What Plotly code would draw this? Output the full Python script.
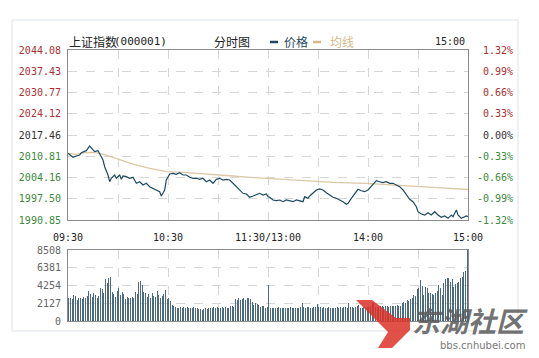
import plotly.graph_objects as go

# ---------------- data ----------------
prev_close = 2017.46
price_time = [0, 3, 5, 7, 8, 11, 13, 15, 16, 18, 19, 21, 22, 24, 25, 26, 28, 29, 31, 32,
              33, 35, 37, 39, 41, 43, 45, 47, 49, 51, 53, 55, 56, 58, 59, 61, 63, 65, 67, 69,
              71, 73, 75, 77, 79, 81, 83, 85, 87, 89, 91, 93, 95, 97, 99, 101, 103, 105, 107, 109,
              111, 113, 115, 117, 119, 120, 121, 123, 125, 127, 129, 131, 133, 135, 137, 139, 141, 142, 144, 145,
              147, 149, 151, 153, 155, 157, 159, 161, 163, 165, 167, 168, 170, 172, 174, 176, 178, 180, 182, 184,
              185, 187, 189, 191, 193, 195, 197, 199, 201, 203, 205, 207, 209, 210, 212, 214, 216, 218, 220, 222,
              224, 226, 228, 230, 231, 233, 234, 236, 237, 239, 240]
price_value = [2011.73, 2010.48, 2010.89, 2011.20, 2011.93, 2012.56, 2014.02, 2012.98, 2012.25, 2012.56,
               2011.73, 2009.64, 2007.54, 2004.94, 2002.84, 2003.91, 2004.94, 2003.91, 2004.94, 2003.59,
               2004.63, 2004.41, 2003.91, 2004.22, 2002.34, 2002.84, 2001.81, 2002.34, 2001.28, 2000.77,
               2000.24, 1999.71, 1998.36, 2000.24, 2003.37, 2005.25, 2005.47, 2005.15, 2005.66, 2004.94,
               2004.94, 2004.22, 2003.91, 2003.91, 2003.59, 2003.91, 2002.84, 2003.37, 2002.34, 2003.59,
               2003.91, 2003.37, 2003.59, 2003.37, 2002.34, 2001.28, 2000.24, 1999.21, 1998.99, 1997.96,
               1998.36, 1998.68, 1999.21, 1998.68, 1998.99, 1998.15, 1997.96, 1997.11, 1996.90, 1997.11,
               1996.58, 1997.11, 1996.90, 1996.58, 1997.11, 1996.90, 1996.58, 1998.15, 1997.64, 1998.36,
               1999.21, 2000.24, 2000.56, 2000.24, 1999.40, 1998.68, 1997.96, 1997.64, 1997.11, 1996.58,
               1995.77, 1996.08, 1997.64, 1999.21, 2000.46, 2000.02, 1999.71, 2000.24, 2001.28, 2002.53,
               2003.16, 2002.84, 2002.53, 2002.84, 2002.34, 2002.34, 2001.81, 2001.28, 2000.24, 1998.68,
               1997.33, 1996.58, 1995.01, 1993.45, 1992.73, 1992.42, 1993.14, 1992.42, 1993.45, 1992.42,
               1991.69, 1992.10, 1991.38, 1992.42, 1991.89, 1993.98, 1992.42, 1991.38, 1991.69, 1992.10,
               1991.89]
avg_time = [0, 5, 10, 16, 22, 29, 39, 49, 59, 69, 79, 89, 99, 109, 119, 139, 159, 179, 199, 219, 240]
avg_value = [2011.73, 2011.40, 2011.90, 2012.00, 2011.30, 2010.17, 2008.38, 2007.04, 2005.97, 2005.79,
             2005.47, 2004.94, 2004.63, 2004.22, 2003.91, 2003.37, 2002.65, 2002.34, 2001.81, 2001.09,
             2000.40]
volume = [2700, 2800, 2600, 3100, 3000, 2500, 2700, 2800, 2600, 2900,
          2800, 3000, 3600, 3200, 2900, 3300, 3100, 2800, 3000, 4000,
          3800, 3400, 5000, 4600, 5100, 5300, 3500, 3200, 2900, 3600,
          3900, 3100, 3500, 3200, 2600, 2900, 2700, 2800, 2900, 2700,
          3500, 3200, 4700, 4800, 4300, 3500, 3400, 2900, 3200, 2700,
          3300, 3000, 2900, 3600, 3100, 2800, 3000, 3200, 3700, 2600,
          2800, 2400, 1900, 1800, 1700, 1600, 1600, 1650, 1550, 1700,
          1600, 1650, 1500, 1550, 1600, 1700, 1500, 1600, 1400, 1450,
          1350, 1450, 1500, 1400, 1600, 1550, 1500, 1650, 1500, 1700,
          1600, 1550, 1650, 1500, 1700, 1600, 1550, 1750, 1800, 1700,
          2600, 2500, 2700, 2550, 2600, 2750, 2500, 2700, 2800, 2600,
          2300, 1900, 2100, 2000, 1900, 1700, 1800, 1750, 1600, 1700,
          4300, 1600, 1550, 1500, 1600, 1550, 1650, 1500, 1600, 1550,
          1500, 1600, 1550, 1650, 1500, 1600, 1550, 1500, 1600, 1650,
          2100, 1700, 1600, 1650, 1700, 1600, 1550, 1700, 1650, 2000,
          1700, 1650, 1600, 1700, 1550, 1600, 1650, 1500, 1600, 1550,
          1600, 1700, 1550, 1650, 1600, 1700, 1650, 1600, 2100, 1700,
          1650, 1600, 1700, 1750, 1900, 1500, 1600, 1650, 1700, 1700,
          1700, 1800, 2300, 2200, 1700, 1650, 1700, 1750, 1800, 1700,
          1750, 1800, 1700, 1750, 1850, 1800, 1750, 1900, 1800, 1850,
          2200, 2300, 2100, 2500, 2400, 2600, 2800, 3100, 3000, 3800,
          3900, 4900, 4200, 3100, 4100, 4000, 3300, 3400, 3200, 3100,
          3300, 3600, 4300, 3900, 3100, 4600, 5000, 5100, 5100, 4700,
          5000, 4100, 4400, 4600, 4700, 5100, 5300, 5900, 6000, 8508]
volume_time = [m + 0.5 for m in range(len(volume))]

grid_time = [0, 30, 60, 90, 120, 150, 180, 210, 240]
time_labels = ["09:30", "", "10:30", "", "11:30/13:00", "", "14:00", "", "15:00"]
price_ticks = [2044.08, 2037.43, 2030.77, 2024.12, 2017.46, 2010.81, 2004.16, 1997.50, 1990.85]
pct_ticks = [1.32, 0.99, 0.66, 0.33, 0.00, -0.33, -0.66, -0.99, -1.32]
vol_ticks = [0, 2127, 4254, 6381, 8508]

# ---------------- styling ----------------
RED, GREEN, DARK = "#a83232", "#3b8a3b", "#333333"
PRICE_C, AVG_C, BAR_C = "#1d4a60", "#dcc8a6", "rgba(70,102,124,0.97)"
GRID_C, AXIS_C = "#d6d6d6", "#8a8a8a"
MONO = "DejaVu Sans Mono, Liberation Mono, monospace"
CJK = "Noto Sans CJK SC, sans-serif"


def col(v):
    return RED if v > 0.0001 else (GREEN if v < -0.0001 else DARK)


left_text = [f"<span style='color:{col(p - prev_close)}'>{p:.2f}</span>" for p in price_ticks]
right_text = [f"<span style='color:{col(p)}'>{'\u00a0' if p >= 0 else ''}{p:.2f}%</span>" for p in pct_ticks]

fig = go.Figure()
fig.add_trace(go.Scatter(x=avg_time, y=avg_value, mode="lines", line=dict(color=AVG_C, width=1.3),
                         xaxis="x", yaxis="y", hoverinfo="skip"))
fig.add_trace(go.Scatter(x=price_time, y=price_value, mode="lines", line=dict(color=PRICE_C, width=1.2),
                         xaxis="x", yaxis="y"))
fig.add_trace(go.Scatter(x=[0, 240], y=[0, 0], mode="lines", line=dict(width=0), opacity=0,
                         xaxis="x", yaxis="y3", hoverinfo="skip"))
fig.add_trace(go.Bar(x=volume_time, y=volume, width=0.6, marker=dict(color=BAR_C, line=dict(width=0)),
                     xaxis="x2", yaxis="y2"))

# page geometry (the html body adds an 8px margin, so the figure is placed 8px in)
OFF = 8
W, H = 539 - OFF, 358 - OFF
L, R, T, B = 68 - OFF, 468 - OFF, 50 - OFF, 321 - OFF
def px(xp): return (xp - OFF - L) / (R - L)
def py(yp): return (B - (yp - OFF)) / (B - T)

common_x = dict(range=[0, 240], tickvals=grid_time, showgrid=True, gridcolor=GRID_C, griddash="dash",
                gridwidth=1, showline=True, mirror=True, linecolor=AXIS_C, linewidth=1, zeroline=False,
                ticks="", fixedrange=True)

fig.update_layout(
    width=W, height=H, margin=dict(l=L, r=W - R, t=T, b=H - B, pad=0),
    paper_bgcolor="white", plot_bgcolor="white", showlegend=False, bargap=0, bargroupgap=0,
    xaxis=dict(common_x, domain=[0, 1], anchor="y", ticktext=time_labels,
               tickfont=dict(family=MONO, size=10, color="#222"), ticklabelstandoff=8),
    xaxis2=dict(common_x, domain=[0, 1], anchor="y2", showticklabels=False),
    yaxis=dict(domain=[py(220), 1], range=[1990.85, 2044.08], tickvals=price_ticks, ticktext=left_text,
               showgrid=True, gridcolor=GRID_C, griddash="dash", showline=True, mirror=True,
               linecolor=AXIS_C, zeroline=False, ticks="", ticklabelstandoff=4,
               tickfont=dict(family=MONO, size=10)),
    yaxis3=dict(overlaying="y", side="right", anchor="x", range=[-1.32, 1.32], tickvals=pct_ticks,
                ticktext=right_text, showgrid=False, zeroline=False, ticks="", ticklabelstandoff=8,
                tickfont=dict(family=MONO, size=10)),
    yaxis2=dict(domain=[0, py(250)], range=[0, 8508], tickvals=vol_ticks, showgrid=True, gridcolor=GRID_C,
                griddash="dash", showline=True, mirror=True, linecolor=AXIS_C, zeroline=False, ticks="",
                ticklabelstandoff=4, tickfont=dict(family=MONO, size=10, color="#666")),
)

# outer frame
fig.add_shape(type="rect", xref="paper", yref="paper", x0=px(12), x1=px(518), y0=py(331), y1=py(20),
              line=dict(color="#dde3ea", width=1), layer="below")

# header
hdr_y = py(42)
ann = [
    dict(text="上证指数", x=px(67), font=dict(family=CJK, size=12, color="#222")),
    dict(text="(000001)", x=px(112), font=dict(family=MONO, size=11, color="#222")),
    dict(text="分时图", x=px(212), font=dict(family=CJK, size=12, color="#222")),
    dict(text="价格", x=px(282), font=dict(family=CJK, size=12, color=PRICE_C)),
    dict(text="均线", x=px(328), font=dict(family=CJK, size=12, color="#d4b98c")),
]
for a in ann:
    fig.add_annotation(xref="paper", yref="paper", y=hdr_y, xanchor="left", yanchor="middle",
                       showarrow=False, **a)
fig.add_annotation(xref="paper", yref="paper", x=px(467), y=hdr_y, xanchor="right", yanchor="middle",
                   text="15:00", showarrow=False, font=dict(family=MONO, size=10, color="#222"))
fig.add_shape(type="line", xref="paper", yref="paper", x0=px(270), x1=px(278), y0=hdr_y, y1=hdr_y,
              line=dict(color=PRICE_C, width=2.5))
fig.add_shape(type="line", xref="paper", yref="paper", x0=px(313), x1=px(321), y0=hdr_y, y1=hdr_y,
              line=dict(color="#d4b98c", width=2.5))

# watermark
fig.add_shape(type="path", xref="paper", yref="paper",
              path=f"M {px(356)} {py(300)} L {px(372)} {py(300)} L {px(396)} {py(318)} L {px(410)} {py(318)} "
                   f"L {px(410)} {py(330)} L {px(392)} {py(348)} L {px(378)} {py(348)} L {px(388)} {py(332)} Z",
              fillcolor="rgba(220,50,40,0.85)", line=dict(width=0))
fig.add_annotation(xref="paper", yref="paper", x=px(410), y=py(320), xanchor="left", yanchor="middle",
                   text="<b><i>东湖社区</i></b>", showarrow=False,
                   font=dict(family=CJK, size=28, color="rgba(90,90,90,0.85)"))
fig.add_annotation(xref="paper", yref="paper", x=px(438), y=py(345), xanchor="left", yanchor="middle",
                   text="bbs.cnhubei.com", showarrow=False,
                   font=dict(family="DejaVu Sans, sans-serif", size=10, color="#777"))

fig.write_html("out.html")
